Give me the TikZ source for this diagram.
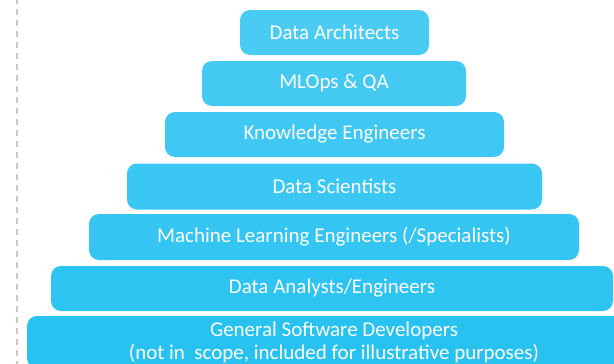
\documentclass[tikz,border=0pt]{standalone}
\usepackage{fontspec}
\setmainfont{Carlito}
\usetikzlibrary{positioning}

\definecolor{tierA}{HTML}{4ACBF3}
\definecolor{tierB}{HTML}{44C9F3}
\definecolor{tierC}{HTML}{3FC8F3}
\definecolor{tierD}{HTML}{3AC7F3}
\definecolor{tierE}{HTML}{34C5F2}
\definecolor{tierF}{HTML}{2EC4F2}
\definecolor{tierG}{HTML}{28C2F1}
\definecolor{guide}{HTML}{C9C9C4}

\tikzset{
  tier/.style={rounded corners=10pt, inner sep=0pt, minimum height=45pt,
    text=white, font=\fontsize{21}{23}\selectfont, align=center}
}

\begin{document}
\begin{tikzpicture}[x=1pt,y=-1pt]
  \useasboundingbox (0,0) rectangle (614,364);
  \clip (0,0) rectangle (614,364);

  % dashed guide on the left
  \draw [guide, line width=2pt, dash pattern=on 6pt off 5pt] (17,-2) -- (17,366);

  % the tiers, top to bottom
  \node [tier, fill=tierA, minimum width=189pt] (architects) at (334.5,32.5) {Data Architects};
  \node [tier, fill=tierB, minimum width=264pt] (mlops) at (334,83.5) {MLOps \& QA};
  \node [tier, fill=tierC, minimum width=339pt] (knowledge) at (334.5,134.5) {Knowledge Engineers};
  \node [tier, fill=tierD, minimum width=415pt, minimum height=46pt] (scientists) at (334.5,186.5) {Data Scientists};
  \node [tier, fill=tierE, minimum width=490pt, minimum height=46pt] (mlengineers) at (334,237) {Machine Learning Engineers (/Specialists)};
  \node [tier, fill=tierF, minimum width=562pt] (analysts) at (332,288.5) {Data Analysts/Engineers};
  \node [tier, fill=tierG, minimum width=614pt, minimum height=52pt] (developers) at (334,342)
    {General Software Developers\\(not in\ \ scope, included for illustrative purposes)};
\end{tikzpicture}
\end{document}
